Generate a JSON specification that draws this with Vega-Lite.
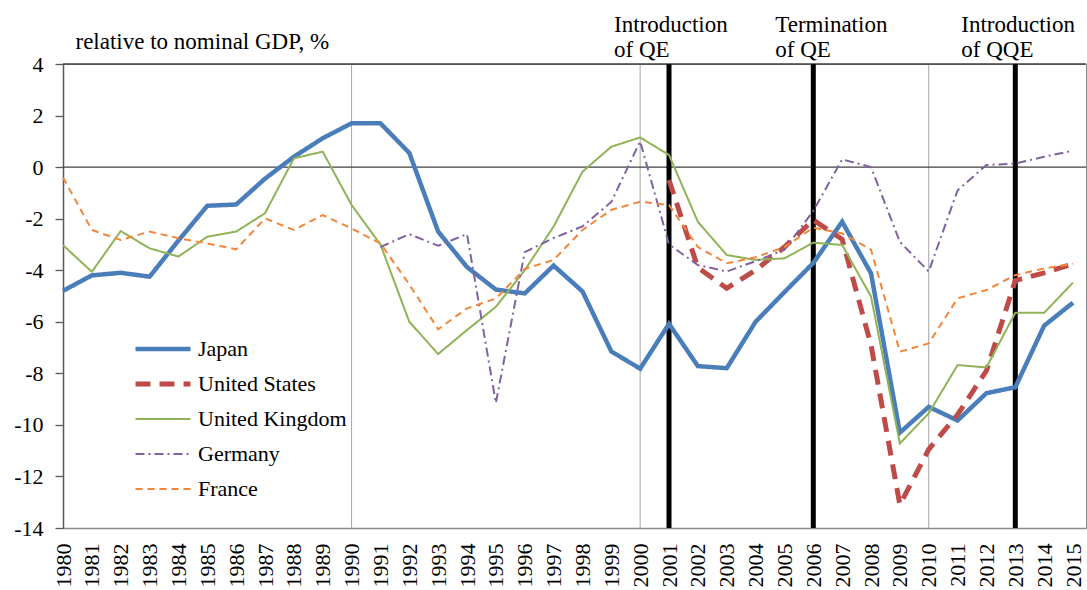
{
  "$schema": "https://vega.github.io/schema/vega-lite/v6.json",
  "autosize": "none",
  "width": 1023,
  "height": 464,
  "padding": {"left": 63, "top": 64, "right": 1, "bottom": 62},
  "background": "white",
  "config": {
    "view": {"stroke": "#8c8c8c", "strokeWidth": 1},
    "font": "Liberation Serif",
    "text": {"font": "Liberation Serif"},
    "legend": {"labelFont": "Liberation Serif", "titleFont": "Liberation Serif"},
    "axis": {"labelOverlap": false, "labelFont": "Liberation Serif", "titleFont": "Liberation Serif", "labelColor": "black", "grid": false},
    "axisX": {
      "ticks": false,
      "tickCount": 40,
      "labelAngle": -90,
      "labelAlign": "right",
      "labelBaseline": "middle",
      "labelPadding": 15,
      "labelFont": "Liberation Serif",
      "labelFontSize": 22,
      "labelFlush": false,
      "labelOverlap": false,
      "domainColor": "#8c8c8c",
      "domainWidth": 1.5
    },
    "axisY": {
      "tickSize": 8,
      "tickColor": "#595959",
      "tickWidth": 1.3,
      "labelPadding": 12,
      "labelFont": "Liberation Serif",
      "labelFontSize": 22,
      "domainColor": "#595959",
      "domainWidth": 1.5,
      "titleAngle": 0,
      "titleAlign": "left",
      "titleBaseline": "alphabetic",
      "titleX": 12,
      "titleY": -16,
      "titleFont": "Liberation Serif",
      "titleFontSize": 23,
      "titleFontWeight": "normal",
      "titleColor": "black"
    }
  },
  "datasets": {
    "series": [
      {"year": 1980, "country": "Japan", "value": -4.8},
      {"year": 1981, "country": "Japan", "value": -4.2},
      {"year": 1982, "country": "Japan", "value": -4.1},
      {"year": 1983, "country": "Japan", "value": -4.25},
      {"year": 1984, "country": "Japan", "value": -2.85},
      {"year": 1985, "country": "Japan", "value": -1.5},
      {"year": 1986, "country": "Japan", "value": -1.45},
      {"year": 1987, "country": "Japan", "value": -0.45},
      {"year": 1988, "country": "Japan", "value": 0.4},
      {"year": 1989, "country": "Japan", "value": 1.12},
      {"year": 1990, "country": "Japan", "value": 1.7},
      {"year": 1991, "country": "Japan", "value": 1.7},
      {"year": 1992, "country": "Japan", "value": 0.55},
      {"year": 1993, "country": "Japan", "value": -2.5},
      {"year": 1994, "country": "Japan", "value": -3.88},
      {"year": 1995, "country": "Japan", "value": -4.75},
      {"year": 1996, "country": "Japan", "value": -4.9},
      {"year": 1997, "country": "Japan", "value": -3.82},
      {"year": 1998, "country": "Japan", "value": -4.82},
      {"year": 1999, "country": "Japan", "value": -7.15},
      {"year": 2000, "country": "Japan", "value": -7.82},
      {"year": 2001, "country": "Japan", "value": -6.08},
      {"year": 2002, "country": "Japan", "value": -7.72},
      {"year": 2003, "country": "Japan", "value": -7.8},
      {"year": 2004, "country": "Japan", "value": -6.0},
      {"year": 2005, "country": "Japan", "value": -4.85},
      {"year": 2006, "country": "Japan", "value": -3.72},
      {"year": 2007, "country": "Japan", "value": -2.12},
      {"year": 2008, "country": "Japan", "value": -4.12},
      {"year": 2009, "country": "Japan", "value": -10.3},
      {"year": 2010, "country": "Japan", "value": -9.3},
      {"year": 2011, "country": "Japan", "value": -9.83},
      {"year": 2012, "country": "Japan", "value": -8.77},
      {"year": 2013, "country": "Japan", "value": -8.54},
      {"year": 2014, "country": "Japan", "value": -6.15},
      {"year": 2015, "country": "Japan", "value": -5.26},
      {"year": 2001, "country": "United States", "value": -0.5},
      {"year": 2002, "country": "United States", "value": -3.9},
      {"year": 2003, "country": "United States", "value": -4.7},
      {"year": 2004, "country": "United States", "value": -4.0},
      {"year": 2005, "country": "United States", "value": -3.1},
      {"year": 2006, "country": "United States", "value": -2.05},
      {"year": 2007, "country": "United States", "value": -2.8},
      {"year": 2008, "country": "United States", "value": -6.9},
      {"year": 2009, "country": "United States", "value": -13.1},
      {"year": 2010, "country": "United States", "value": -10.95},
      {"year": 2011, "country": "United States", "value": -9.6},
      {"year": 2012, "country": "United States", "value": -7.9},
      {"year": 2013, "country": "United States", "value": -4.4},
      {"year": 2014, "country": "United States", "value": -4.1},
      {"year": 2015, "country": "United States", "value": -3.75},
      {"year": 1980, "country": "United Kingdom", "value": -3.03},
      {"year": 1981, "country": "United Kingdom", "value": -4.06},
      {"year": 1982, "country": "United Kingdom", "value": -2.48},
      {"year": 1983, "country": "United Kingdom", "value": -3.15},
      {"year": 1984, "country": "United Kingdom", "value": -3.47},
      {"year": 1985, "country": "United Kingdom", "value": -2.7},
      {"year": 1986, "country": "United Kingdom", "value": -2.5},
      {"year": 1987, "country": "United Kingdom", "value": -1.79},
      {"year": 1988, "country": "United Kingdom", "value": 0.34},
      {"year": 1989, "country": "United Kingdom", "value": 0.6},
      {"year": 1990, "country": "United Kingdom", "value": -1.47},
      {"year": 1991, "country": "United Kingdom", "value": -3.0},
      {"year": 1992, "country": "United Kingdom", "value": -6.0},
      {"year": 1993, "country": "United Kingdom", "value": -7.25},
      {"year": 1994, "country": "United Kingdom", "value": -6.32},
      {"year": 1995, "country": "United Kingdom", "value": -5.42},
      {"year": 1996, "country": "United Kingdom", "value": -4.0},
      {"year": 1997, "country": "United Kingdom", "value": -2.31},
      {"year": 1998, "country": "United Kingdom", "value": -0.18},
      {"year": 1999, "country": "United Kingdom", "value": 0.79},
      {"year": 2000, "country": "United Kingdom", "value": 1.15},
      {"year": 2001, "country": "United Kingdom", "value": 0.47},
      {"year": 2002, "country": "United Kingdom", "value": -2.12},
      {"year": 2003, "country": "United Kingdom", "value": -3.41},
      {"year": 2004, "country": "United Kingdom", "value": -3.6},
      {"year": 2005, "country": "United Kingdom", "value": -3.54},
      {"year": 2006, "country": "United Kingdom", "value": -2.93},
      {"year": 2007, "country": "United Kingdom", "value": -3.02},
      {"year": 2008, "country": "United Kingdom", "value": -5.02},
      {"year": 2009, "country": "United Kingdom", "value": -10.72},
      {"year": 2010, "country": "United Kingdom", "value": -9.55},
      {"year": 2011, "country": "United Kingdom", "value": -7.68},
      {"year": 2012, "country": "United Kingdom", "value": -7.77},
      {"year": 2013, "country": "United Kingdom", "value": -5.65},
      {"year": 2014, "country": "United Kingdom", "value": -5.65},
      {"year": 2015, "country": "United Kingdom", "value": -4.48},
      {"year": 1991, "country": "Germany", "value": -3.1},
      {"year": 1992, "country": "Germany", "value": -2.6},
      {"year": 1993, "country": "Germany", "value": -3.05},
      {"year": 1994, "country": "Germany", "value": -2.6},
      {"year": 1995, "country": "Germany", "value": -9.15},
      {"year": 1996, "country": "Germany", "value": -3.3},
      {"year": 1997, "country": "Germany", "value": -2.75},
      {"year": 1998, "country": "Germany", "value": -2.3},
      {"year": 1999, "country": "Germany", "value": -1.35},
      {"year": 2000, "country": "Germany", "value": 1.0},
      {"year": 2001, "country": "Germany", "value": -3.0},
      {"year": 2002, "country": "Germany", "value": -3.8},
      {"year": 2003, "country": "Germany", "value": -4.05},
      {"year": 2004, "country": "Germany", "value": -3.65},
      {"year": 2005, "country": "Germany", "value": -3.2},
      {"year": 2006, "country": "Germany", "value": -1.7},
      {"year": 2007, "country": "Germany", "value": 0.3},
      {"year": 2008, "country": "Germany", "value": 0.0},
      {"year": 2009, "country": "Germany", "value": -2.9},
      {"year": 2010, "country": "Germany", "value": -4.05},
      {"year": 2011, "country": "Germany", "value": -0.9},
      {"year": 2012, "country": "Germany", "value": 0.08},
      {"year": 2013, "country": "Germany", "value": 0.14},
      {"year": 2014, "country": "Germany", "value": 0.4},
      {"year": 2015, "country": "Germany", "value": 0.64},
      {"year": 1980, "country": "France", "value": -0.4},
      {"year": 1981, "country": "France", "value": -2.44},
      {"year": 1982, "country": "France", "value": -2.83},
      {"year": 1983, "country": "France", "value": -2.5},
      {"year": 1984, "country": "France", "value": -2.76},
      {"year": 1985, "country": "France", "value": -2.96},
      {"year": 1986, "country": "France", "value": -3.19},
      {"year": 1987, "country": "France", "value": -1.99},
      {"year": 1988, "country": "France", "value": -2.44},
      {"year": 1989, "country": "France", "value": -1.86},
      {"year": 1990, "country": "France", "value": -2.38},
      {"year": 1991, "country": "France", "value": -2.96},
      {"year": 1992, "country": "France", "value": -4.55},
      {"year": 1993, "country": "France", "value": -6.29},
      {"year": 1994, "country": "France", "value": -5.48},
      {"year": 1995, "country": "France", "value": -5.1},
      {"year": 1996, "country": "France", "value": -3.95},
      {"year": 1997, "country": "France", "value": -3.6},
      {"year": 1998, "country": "France", "value": -2.44},
      {"year": 1999, "country": "France", "value": -1.66},
      {"year": 2000, "country": "France", "value": -1.34},
      {"year": 2001, "country": "France", "value": -1.47},
      {"year": 2002, "country": "France", "value": -3.1},
      {"year": 2003, "country": "France", "value": -3.73},
      {"year": 2004, "country": "France", "value": -3.5},
      {"year": 2005, "country": "France", "value": -3.1},
      {"year": 2006, "country": "France", "value": -2.35},
      {"year": 2007, "country": "France", "value": -2.57},
      {"year": 2008, "country": "France", "value": -3.2},
      {"year": 2009, "country": "France", "value": -7.16},
      {"year": 2010, "country": "France", "value": -6.84},
      {"year": 2011, "country": "France", "value": -5.09},
      {"year": 2012, "country": "France", "value": -4.77},
      {"year": 2013, "country": "France", "value": -4.19},
      {"year": 2014, "country": "France", "value": -3.93},
      {"year": 2015, "country": "France", "value": -3.75}
    ],
    "grid": [{"year": 1990}, {"year": 2000}, {"year": 2010}],
    "events": [
      {"year": 2001, "event": "intro", "label": ["Introduction", "of QE"]},
      {"year": 2006, "event": "term", "label": ["Termination", "of QE"]},
      {"year": 2013, "event": "qqe", "label": ["Introduction", "of QQE"]}
    ]
  },
  "layer": [
    {
      "data": {"name": "grid"},
      "mark": {"type": "rule", "color": "#a6a6a6", "strokeWidth": 1},
      "encoding": {
        "x": {
          "field": "year", "type": "quantitative",
          "scale": {"domain": [1980, 2015.45], "nice": false, "zero": false},
          "axis": {
            "values": [1980,1981,1982,1983,1984,1985,1986,1987,1988,1989,1990,1991,1992,1993,1994,1995,1996,1997,1998,1999,2000,2001,2002,2003,2004,2005,2006,2007,2008,2009,2010,2011,2012,2013,2014,2015],
            "format": "d",
            "title": null,
            "tickCount": 40,
            "labelFont": "Liberation Serif",
            "labelOverlap": false
          }
        }
      }
    },
    {
      "data": {"values": [{"level": 0}, {"level": 4}]},
      "mark": {"type": "rule", "color": "#404040", "strokeWidth": 1.3},
      "encoding": {
        "y": {
          "field": "level", "type": "quantitative",
          "scale": {"domain": [-14, 4], "nice": false, "zero": false},
          "axis": {
            "values": [-14,-12,-10,-8,-6,-4,-2,0,2,4],
            "title": "relative to nominal GDP, %",
            "labelFont": "Liberation Serif",
            "labelExpr": "datum.value < 0 ? '-' + abs(datum.value) : '' + datum.value"
          }
        }
      }
    },
    {
      "data": {"name": "events"},
      "mark": {"type": "rule", "color": "black", "strokeWidth": 5},
      "encoding": {
        "x": {"field": "year", "type": "quantitative"}
      }
    },
    {
      "data": {"name": "series"},
      "mark": {"type": "line", "interpolate": "linear"},
      "encoding": {
        "x": {
          "field": "year", "type": "quantitative",
          "scale": {"domain": [1980, 2015.45], "nice": false, "zero": false},
          "axis": {
            "values": [1980,1981,1982,1983,1984,1985,1986,1987,1988,1989,1990,1991,1992,1993,1994,1995,1996,1997,1998,1999,2000,2001,2002,2003,2004,2005,2006,2007,2008,2009,2010,2011,2012,2013,2014,2015],
            "format": "d",
            "title": null,
            "tickCount": 40,
            "labelFont": "Liberation Serif",
            "labelOverlap": false
          }
        },
        "y": {
          "field": "value", "type": "quantitative",
          "scale": {"domain": [-14, 4], "nice": false, "zero": false},
          "axis": {
            "values": [-14,-12,-10,-8,-6,-4,-2,0,2,4],
            "title": "relative to nominal GDP, %",
            "labelFont": "Liberation Serif",
            "labelExpr": "datum.value < 0 ? '-' + abs(datum.value) : '' + datum.value"
          }
        },
        "color": {
          "field": "country", "type": "nominal",
          "scale": {
            "domain": ["Japan", "United States", "United Kingdom", "Germany", "France"],
            "range": ["#4a7ebb", "#be4b48", "#8fb356", "#7f63a1", "#f38639"]
          },
          "legend": {
            "orient": "none",
            "legendX": 89,
            "legendY": 274,
            "title": null,
            "symbolType": "stroke",
            "symbolSize": 3025,
            "labelFont": "Liberation Serif",
            "labelFontSize": 22,
            "labelColor": "black",
            "labelOffset": 24,
            "rowPadding": 13,
            "encode": {
              "symbols": {
                "update": {
                  "strokeWidth": {"signal": "datum.value === 'United States' ? 5 : datum.value === 'Japan' ? 4.5 : 2"}
                }
              }
            }
          }
        },
        "strokeDash": {
          "field": "country", "type": "nominal",
          "scale": {
            "domain": ["Japan", "United States", "United Kingdom", "Germany", "France"],
            "range": [[1, 0], [15, 9], [1, 0], [9, 4, 2, 4], [7, 5]]
          }
        },
        "strokeWidth": {
          "condition": [
            {"test": "datum.country === 'United States'", "value": 5},
            {"test": "datum.country === 'Japan'", "value": 4.5}
          ],
          "value": 2
        }
      }
    },
    {
      "data": {"name": "events"},
      "transform": [{"filter": "datum.event === 'intro'"}],
      "mark": {"type": "text", "align": "left", "baseline": "alphabetic", "dx": -55, "dy": -32, "lineHeight": 25, "font": "Liberation Serif", "fontSize": 23, "color": "black"},
      "encoding": {
        "x": {"field": "year", "type": "quantitative"},
        "y": {"datum": 4},
        "text": {"field": "label"}
      }
    },
    {
      "data": {"name": "events"},
      "transform": [{"filter": "datum.event === 'term'"}],
      "mark": {"type": "text", "align": "left", "baseline": "alphabetic", "dx": -38, "dy": -32, "lineHeight": 25, "font": "Liberation Serif", "fontSize": 23, "color": "black"},
      "encoding": {
        "x": {"field": "year", "type": "quantitative"},
        "y": {"datum": 4},
        "text": {"field": "label"}
      }
    },
    {
      "data": {"name": "events"},
      "transform": [{"filter": "datum.event === 'qqe'"}],
      "mark": {"type": "text", "align": "left", "baseline": "alphabetic", "dx": -54, "dy": -32, "lineHeight": 25, "font": "Liberation Serif", "fontSize": 23, "color": "black"},
      "encoding": {
        "x": {"field": "year", "type": "quantitative"},
        "y": {"datum": 4},
        "text": {"field": "label"}
      }
    }
  ]
}
